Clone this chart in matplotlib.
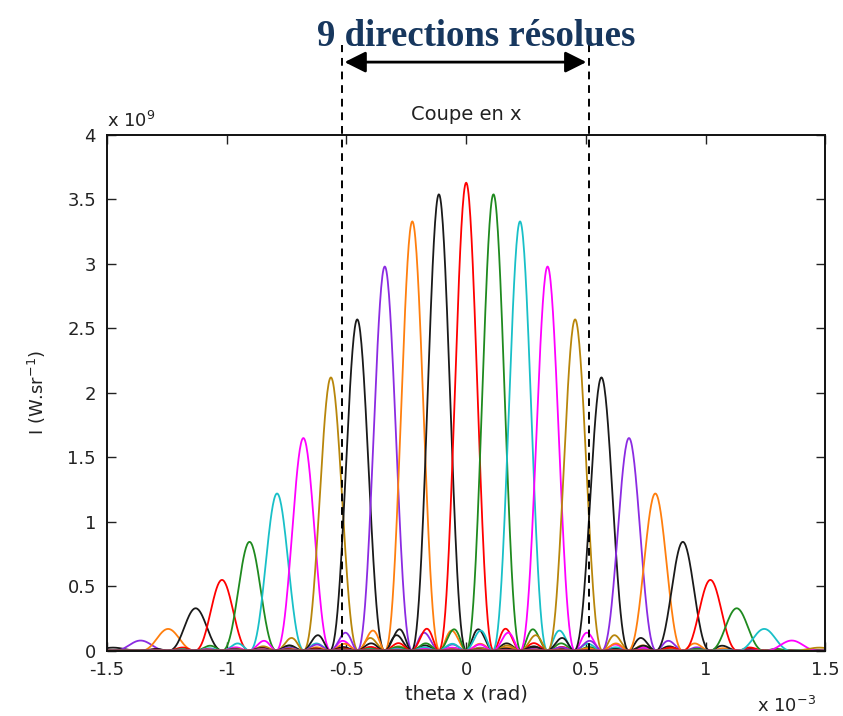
import numpy as np
import matplotlib
matplotlib.use("Agg")
import matplotlib.pyplot as plt

plt.rcParams['font.family'] = ['DejaVu Sans']

# peak positions (x 1e-3 rad) and peak heights (x 1e9 W/sr)
peak_pos = [-1.475, -1.36, -1.245, -1.13, -1.02, -0.905, -0.79, -0.68, -0.565,
            -0.455, -0.34, -0.225, -0.114, 0.0, 0.114, 0.225, 0.34, 0.455,
            0.565, 0.68, 0.79, 0.905, 1.02, 1.13, 1.245, 1.36, 1.475]
peak_height = [0.025, 0.08, 0.17, 0.33, 0.55, 0.845, 1.22, 1.65, 2.12,
               2.57, 2.98, 3.33, 3.54, 3.63, 3.54, 3.33, 2.98, 2.57,
               2.12, 1.65, 1.22, 0.845, 0.55, 0.33, 0.17, 0.08, 0.025]
lobe_width = 0.115  # first zero of each lobe (x 1e-3 rad)

color_cycle = ['#ff0000', '#1f8a1f', '#19c0c8', '#ff00ff', '#b8860b',
               '#1a1a1a', '#8b2be2', '#ff7f0e', '#1a1a1a']

resolved_left = -0.518
resolved_right = 0.512

fig = plt.figure(figsize=(8.43, 7.16), dpi=100)
ax = fig.add_axes([0.127, 0.091, 0.852, 0.7205])

theta = np.linspace(-1.5, 1.5, 1201)
for i, (p, h) in enumerate(zip(peak_pos, peak_height)):
    k = i - 13
    col = color_cycle[k % 9]
    ax.plot(theta, h * np.sinc((theta - p) / lobe_width) ** 2, color=col, lw=1.3)

txt = '#222222'
ax.set_xlim(-1.5, 1.5)
ax.set_ylim(0, 4)
ax.set_xticks([-1.5, -1, -0.5, 0, 0.5, 1, 1.5])
ax.set_xticklabels(['-1.5', '-1', '-0.5', '0', '0.5', '1', '1.5'])
ax.set_yticks([0, 0.5, 1, 1.5, 2, 2.5, 3, 3.5, 4])
ax.set_yticklabels(['0', '0.5', '1', '1.5', '2', '2.5', '3', '3.5', '4'])
ax.tick_params(direction='in', top=True, right=True, length=6.5, width=1,
               labelsize=13, colors=txt)
ax.tick_params(axis='x', pad=7)
ax.tick_params(axis='y', pad=8)
for s in ax.spines.values():
    s.set_linewidth(1.4)
    s.set_color('#111111')

ax.set_xlabel('theta x (rad)', fontsize=14, color=txt, labelpad=4)
ax.set_ylabel('I (W.sr$^{-1}$)', fontsize=13, color=txt, labelpad=14)
ax.set_title('Coupe en x', fontsize=14, color=txt, pad=11)
ax.text(0.0, 1.008, r'x 10$^{9}$', transform=ax.transAxes, fontsize=13,
        color=txt, ha='left', va='bottom')
ax.text(0.905, -0.088, r'x 10$^{-3}$', transform=ax.transAxes, fontsize=13,
        color=txt, ha='left', va='top')

# resolved directions markers
for xv in [resolved_left, resolved_right]:
    ax.plot([xv, xv], [0, 4.70], ls='--', color='black', lw=1.4,
            clip_on=False, dashes=(4, 3))
ax.annotate('', xy=(resolved_left + 0.01, 4.565), xytext=(resolved_right - 0.01, 4.565),
            annotation_clip=False,
            arrowprops=dict(arrowstyle='<|-|>', color='black', lw=2,
                            mutation_scale=32, shrinkA=0, shrinkB=0))
fig.text(0.565, 0.949, '9 directions résolues', fontsize=26.5, fontweight='bold',
         family='Liberation Serif', color='#17375e', ha='center', va='center')

fig.savefig('out.png', dpi=100)
